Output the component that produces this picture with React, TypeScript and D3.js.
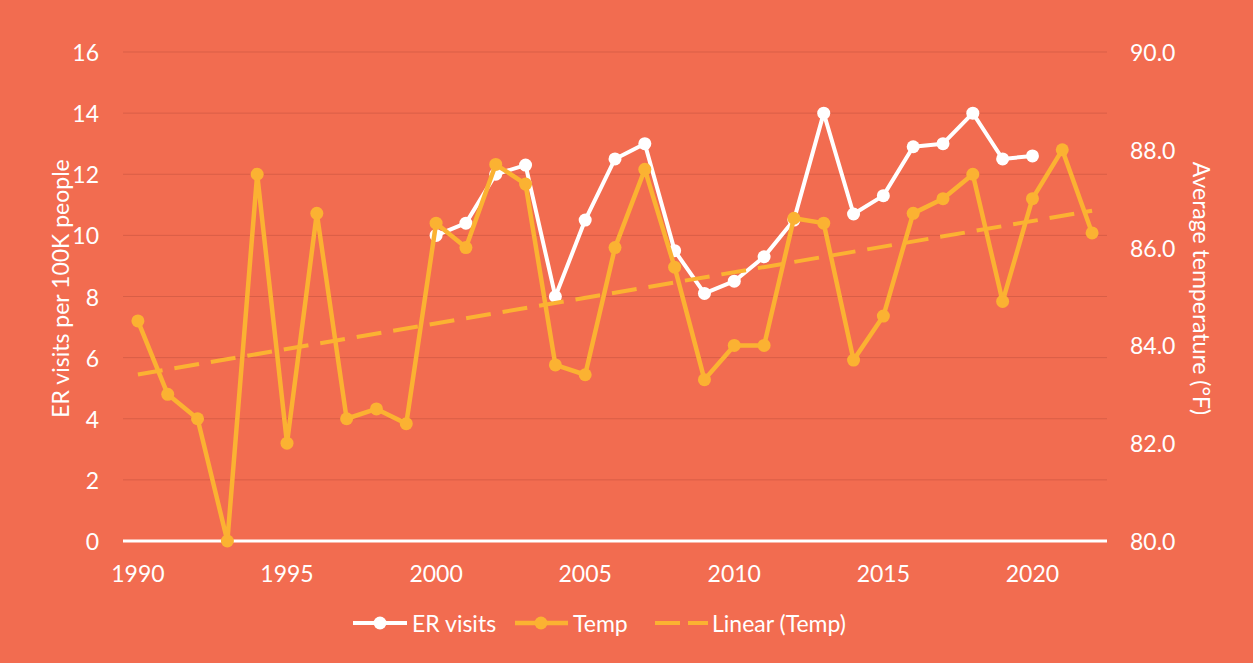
import React, { useRef, useEffect } from 'react';
import * as d3 from 'd3';

const years = d3.range(1990, 2023);
const tempValues = [
  84.5, 83.0, 82.5, 80.0, 87.5, 82.0, 86.7, 82.5, 82.7, 82.4,
  86.5, 86.0, 87.7, 87.3, 83.6, 83.4, 86.0, 87.6, 85.6, 83.3,
  84.0, 84.0, 86.6, 86.5, 83.7, 84.6, 86.7, 87.0, 87.5, 84.9,
  87.0, 88.0, 86.3,
];
const erYears = d3.range(2000, 2021);
const erValues = [
  10.0, 10.4, 12.0, 12.3, 8.0, 10.5, 12.5, 13.0, 9.5, 8.1,
  8.5, 9.3, 10.5, 14.0, 10.7, 11.3, 12.9, 13.0, 14.0, 12.5, 12.6,
];
const leftTicks = [0, 2, 4, 6, 8, 10, 12, 14, 16];
const rightTicks = [80, 82, 84, 86, 88, 90];
const xTickYears = [1990, 1995, 2000, 2005, 2010, 2015, 2020];

const W = 1253;
const H = 663;
const BG = '#F26C50';
const ORANGE = '#FBB232';
const GRID = '#D95E46';
const FONT = 'Lato, sans-serif';

export default function App() {
  const ref = useRef<SVGSVGElement>(null);

  useEffect(() => {
    const svg = d3.select(ref.current);
    svg.selectAll('*').remove();

    const left = 123, right = 1107, top = 52, bottom = 541;

    const x = d3.scalePoint<number>().domain(years).range([left, right]).padding(0.5);
    const yL = d3.scaleLinear().domain([0, 16]).range([bottom, top]);
    const yR = d3.scaleLinear().domain([80, 90]).range([bottom, top]);

    svg.append('rect').attr('width', W).attr('height', H).attr('fill', BG);

    // gridlines
    svg.append('g')
      .selectAll('line')
      .data(leftTicks.slice(1))
      .join('line')
      .attr('x1', left).attr('x2', right)
      .attr('y1', d => yL(d)).attr('y2', d => yL(d))
      .attr('stroke', GRID).attr('stroke-width', 1);

    // base axis
    svg.append('line')
      .attr('x1', left).attr('x2', right)
      .attr('y1', yL(0)).attr('y2', yL(0))
      .attr('stroke', '#fff').attr('stroke-width', 3);

    const txt = (g: any) => g.attr('fill', '#fff').attr('font-family', FONT).attr('font-size', 23);

    // left ticks
    svg.append('g').selectAll('text').data(leftTicks).join('text')
      .call(txt)
      .attr('x', 99).attr('y', d => yL(d))
      .attr('text-anchor', 'end').attr('dominant-baseline', 'central')
      .text(d => d);

    // right ticks
    svg.append('g').selectAll('text').data(rightTicks).join('text')
      .call(txt)
      .attr('x', 1130).attr('y', d => yR(d))
      .attr('text-anchor', 'start').attr('dominant-baseline', 'central')
      .text(d => d3.format('.1f')(d));

    // x ticks
    svg.append('g').selectAll('text').data(xTickYears).join('text')
      .call(txt)
      .attr('x', d => x(d)!).attr('y', 573)
      .attr('text-anchor', 'middle').attr('dominant-baseline', 'central')
      .text(d => d);

    // axis titles
    svg.append('text').call(txt)
      .attr('transform', `translate(60,${(top + bottom) / 2 - 8}) rotate(-90)`)
      .attr('text-anchor', 'middle').attr('dominant-baseline', 'central')
      .text('ER visits per 100K people');
    svg.append('text').call(txt)
      .attr('transform', `translate(1202,${(top + bottom) / 2 - 8}) rotate(90)`)
      .attr('text-anchor', 'middle').attr('dominant-baseline', 'central')
      .text('Average temperature (°F)');

    // ER visits
    const erData = erYears.map((yr, i) => [yr, erValues[i]] as [number, number]);
    const erLine = d3.line<[number, number]>().x(d => x(d[0])!).y(d => yL(d[1]));
    svg.append('path').datum(erData)
      .attr('d', erLine).attr('fill', 'none')
      .attr('stroke', '#fff').attr('stroke-width', 4).attr('stroke-linejoin', 'round');
    svg.append('g').selectAll('circle').data(erData).join('circle')
      .attr('cx', d => x(d[0])!).attr('cy', d => yL(d[1])).attr('r', 6.5).attr('fill', '#fff');

    // Temp
    const tData = years.map((yr, i) => [yr, tempValues[i]] as [number, number]);
    const tLine = d3.line<[number, number]>().x(d => x(d[0])!).y(d => yR(d[1]));
    svg.append('path').datum(tData)
      .attr('d', tLine).attr('fill', 'none')
      .attr('stroke', ORANGE).attr('stroke-width', 4.5).attr('stroke-linejoin', 'round');
    svg.append('g').selectAll('circle').data(tData).join('circle')
      .attr('cx', d => x(d[0])!).attr('cy', d => yR(d[1])).attr('r', 6.5).attr('fill', ORANGE);

    // linear trendline (least squares on temp)
    const mx = d3.mean(years)!;
    const my = d3.mean(tempValues)!;
    const slope = d3.sum(years, (yr, i) => (yr - mx) * (tempValues[i] - my)) /
      d3.sum(years, yr => (yr - mx) ** 2);
    const fit = (yr: number) => my + slope * (yr - mx);
    const y0 = years[0], y1 = years[years.length - 1];
    svg.append('line')
      .attr('x1', x(y0)!).attr('y1', yR(fit(y0)))
      .attr('x2', x(y1)!).attr('y2', yR(fit(y1)))
      .attr('stroke', ORANGE).attr('stroke-width', 4)
      .attr('stroke-dasharray', '25 12');

    // legend
    const lg = svg.append('g').attr('transform', 'translate(0,623)');
    lg.append('line').attr('x1', 353).attr('x2', 407).attr('stroke', '#fff').attr('stroke-width', 4);
    lg.append('circle').attr('cx', 380).attr('r', 6.5).attr('fill', '#fff');
    lg.append('text').call(txt).attr('x', 412).attr('dominant-baseline', 'central').text('ER visits');
    lg.append('line').attr('x1', 515).attr('x2', 568).attr('stroke', ORANGE).attr('stroke-width', 4.5);
    lg.append('circle').attr('cx', 541).attr('r', 6.5).attr('fill', ORANGE);
    lg.append('text').call(txt).attr('x', 573).attr('dominant-baseline', 'central').text('Temp');
    lg.append('line').attr('x1', 655).attr('x2', 708).attr('stroke', ORANGE).attr('stroke-width', 4)
      .attr('stroke-dasharray', '25 8');
    lg.append('text').call(txt).attr('x', 712).attr('dominant-baseline', 'central').text('Linear (Temp)');
  }, []);

  return (
    <div style={{ position: 'absolute', left: 0, top: 0 }}>
      <svg ref={ref} width={W} height={H} style={{ display: 'block' }} />
    </div>
  );
}
